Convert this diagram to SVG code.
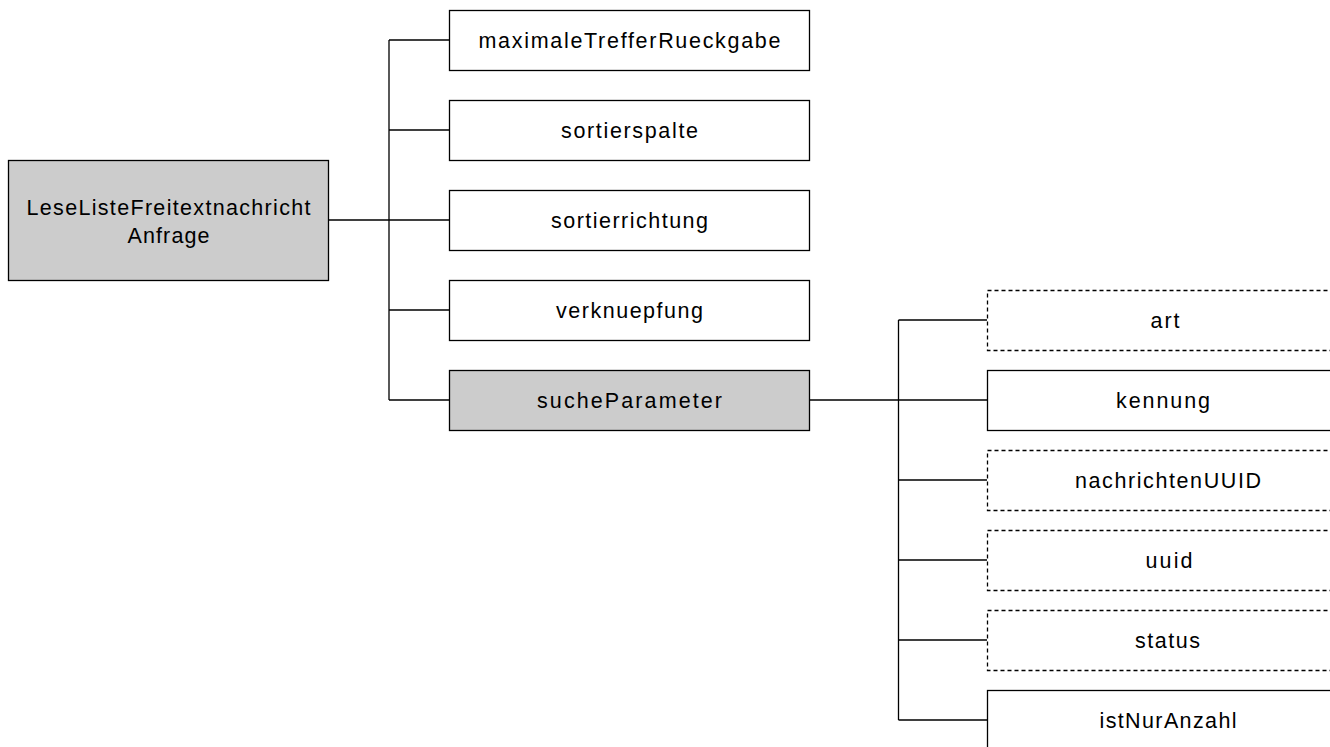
<svg xmlns="http://www.w3.org/2000/svg" width="1330" height="747" viewBox="0 0 1330 747">
<style>
.box{fill:#fff;stroke:#000;stroke-width:1.3}
.grey{fill:#ccc}
.dash{stroke-dasharray:4 3}
.lbl{font-family:"Liberation Sans",Arial,sans-serif;font-size:21.5px;fill:#000;text-anchor:middle}
.edge{fill:none;stroke:#000;stroke-width:1.3}
</style>
<rect width="1330" height="747" fill="#fff"/>
<g id="connectors">
<path class="edge" d="M329 220H449M389 40V400M389 40H449M389 130H449M389 310H449M389 400H449"/>
<path class="edge" d="M809 400H987M898.5 320V720M898.5 320H987M898.5 480H987M898.5 560H987M898.5 640H987M898.5 720H987"/>
</g>
<g id="root">
<rect class="box grey" x="8.5" y="160.5" width="320" height="120"/>
<text class="lbl" x="168.5" y="215" textLength="284" lengthAdjust="spacing">LeseListeFreitextnachricht</text>
<text class="lbl" x="168.5" y="243" textLength="82" lengthAdjust="spacing">Anfrage</text>
</g>
<g id="maximaleTrefferRueckgabe">
<rect class="box" x="449.5" y="10.5" width="360" height="60"/>
<text class="lbl" x="629.5" y="48" textLength="302" lengthAdjust="spacing">maximaleTrefferRueckgabe</text>
</g>
<g id="sortierspalte">
<rect class="box" x="449.5" y="100.5" width="360" height="60"/>
<text class="lbl" x="629.5" y="138" textLength="137" lengthAdjust="spacing">sortierspalte</text>
</g>
<g id="sortierrichtung">
<rect class="box" x="449.5" y="190.5" width="360" height="60"/>
<text class="lbl" x="629.5" y="228" textLength="157" lengthAdjust="spacing">sortierrichtung</text>
</g>
<g id="verknuepfung">
<rect class="box" x="449.5" y="280.5" width="360" height="60"/>
<text class="lbl" x="629.5" y="318" textLength="147" lengthAdjust="spacing">verknuepfung</text>
</g>
<g id="sucheParameter">
<rect class="box grey" x="449.5" y="370.5" width="360" height="60"/>
<text class="lbl" x="629.5" y="408" textLength="185" lengthAdjust="spacing">sucheParameter</text>
</g>
<g id="art">
<rect class="box dash" x="987.5" y="290.5" width="360" height="60"/>
<text class="lbl" x="1165" y="328" textLength="29" lengthAdjust="spacing">art</text>
</g>
<g id="kennung">
<rect class="box" x="987.5" y="370.5" width="360" height="60"/>
<text class="lbl" x="1163" y="408" textLength="94" lengthAdjust="spacing">kennung</text>
</g>
<g id="nachrichtenUUID">
<rect class="box dash" x="987.5" y="450.5" width="360" height="60"/>
<text class="lbl" x="1168" y="488" textLength="186" lengthAdjust="spacing">nachrichtenUUID</text>
</g>
<g id="uuid">
<rect class="box dash" x="987.5" y="530.5" width="360" height="60"/>
<text class="lbl" x="1169" y="568" textLength="47" lengthAdjust="spacing">uuid</text>
</g>
<g id="status">
<rect class="box dash" x="987.5" y="610.5" width="360" height="60"/>
<text class="lbl" x="1167.5" y="648" textLength="65" lengthAdjust="spacing">status</text>
</g>
<g id="istNurAnzahl">
<rect class="box" x="987.5" y="690.5" width="360" height="60"/>
<text class="lbl" x="1168" y="728" textLength="137" lengthAdjust="spacing">istNurAnzahl</text>
</g>
</svg>
